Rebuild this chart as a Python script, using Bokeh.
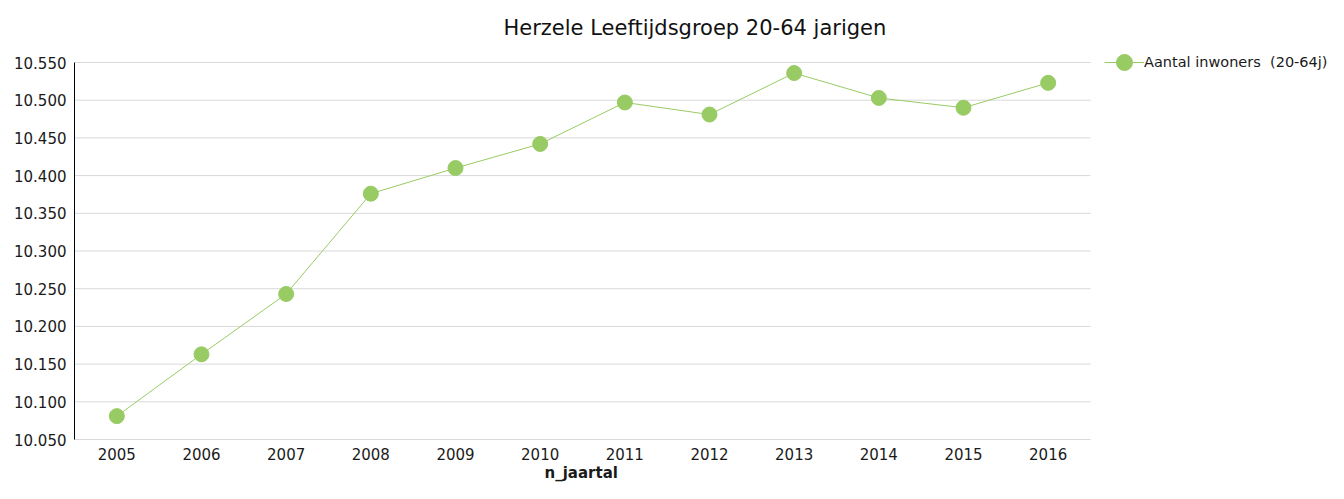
from bokeh.plotting import figure
from bokeh.models import (FixedTicker, CustomJSTickFormatter, Legend, LegendItem,
                          Title, Range1d)
from bokeh.embed import file_html
from bokeh.resources import INLINE

years = ["2005", "2006", "2007", "2008", "2009", "2010",
         "2011", "2012", "2013", "2014", "2015", "2016"]
inwoners = [10081, 10163, 10243, 10376, 10410, 10442,
            10497, 10481, 10536, 10503, 10490, 10523]
y_ticks = [10050, 10100, 10150, 10200, 10250, 10300, 10350, 10400, 10450, 10500, 10550]
title_text = "Herzele  Leeftijdsgroep 20-64 jarigen"
series_name = "Aantal inwoners  (20-64j)"
x_label = "n_jaartal"

FONT = "DejaVu Sans"
GREEN = "#99CB64"
TXT = "#1a1a1a"
GRID = "#d9d9d9"

W, H = 1328, 483
LEFT, TOP, BOTTOM = 74, 40, 44
PLOT_RIGHT, VALUE_TOP = 1090, 62          # where the category area / top tick end (px)
n = len(years)
xs = [i + 0.5 for i in range(n)]
ymin, ymax = y_ticks[0], y_ticks[-1]

frame_w = W - LEFT
frame_h = H - TOP - BOTTOM
px_per_cat = (PLOT_RIGHT - LEFT) / n
px_per_val = (H - BOTTOM - VALUE_TOP) / (ymax - ymin)
x_end = frame_w / px_per_cat
y_end = ymax + (VALUE_TOP - TOP) / px_per_val

p = figure(width=W, height=H, x_range=Range1d(0, x_end), y_range=Range1d(ymin, y_end),
           output_backend="svg", toolbar_location=None, title=None,
           min_border_left=LEFT, min_border_right=0, min_border_top=TOP,
           min_border_bottom=BOTTOM)
p.outline_line_color = None
p.background_fill_color = "white"
p.border_fill_color = "white"

# horizontal grid lines limited to the category area
p.xgrid.grid_line_color = None
p.ygrid.grid_line_color = None
p.segment(x0=[0] * len(y_ticks), x1=[n] * len(y_ticks), y0=y_ticks, y1=y_ticks,
          line_color=GRID, line_width=1)

line = p.line(xs, inwoners, line_color=GREEN, line_width=1)
pts = p.scatter(xs, inwoners, size=15, fill_color=GREEN, line_color=GREEN)

p.yaxis.ticker = FixedTicker(ticks=y_ticks)
p.yaxis.bounds = (ymin, ymax)
p.yaxis.formatter = CustomJSTickFormatter(
    code="return tick.toFixed(0).replace(/\\B(?=(\\d{3})+(?!\\d))/g, '.');")
p.yaxis.axis_line_color = "black"
p.yaxis.major_tick_line_color = None
p.yaxis.minor_tick_line_color = None
p.yaxis.major_tick_out = 0
p.yaxis.minor_tick_out = 0
p.yaxis.major_label_text_font = FONT
p.yaxis.major_label_text_font_size = "15px"
p.yaxis.major_label_text_color = TXT
p.yaxis.major_label_standoff = 8

p.xaxis.ticker = FixedTicker(ticks=xs)
p.xaxis.bounds = (0, n)
p.xaxis.formatter = CustomJSTickFormatter(args=dict(years=years),
                                          code="return years[Math.floor(tick)];")
p.xaxis.axis_line_color = GRID
p.xaxis.major_tick_line_color = None
p.xaxis.minor_tick_line_color = None
p.xaxis.major_tick_out = 0
p.xaxis.minor_tick_out = 0
p.xaxis.major_label_text_font = FONT
p.xaxis.major_label_text_font_size = "15px"
p.xaxis.major_label_text_color = TXT
p.xaxis.major_label_standoff = 8

# x-axis title centred under the category area
xtitle = Title(text=x_label, align="left", offset=470, standoff=0,
               text_font=FONT, text_font_size="15px", text_font_style="bold",
               text_color=TXT, vertical_align="middle")
p.add_layout(xtitle, "below")

title = Title(text=title_text, align="left", offset=429, standoff=0,
              text_font=FONT, text_font_size="21px", text_font_style="normal",
              text_color="#111111", vertical_align="middle")
p.add_layout(title, "above")

legend = Legend(items=[LegendItem(label=series_name, renderers=[line, pts])],
                location=(1104 - LEFT, frame_h - 40 - (42 - TOP)),
                orientation="vertical",
                label_text_font=FONT, label_text_font_size="14.5px",
                label_text_color=TXT, background_fill_alpha=0,
                border_line_color=None, glyph_width=40, glyph_height=40,
                label_standoff=0, label_height=40, padding=0, margin=0,
                spacing=0)
p.add_layout(legend, "center")

open("out.html", "w").write(file_html(p, INLINE))
